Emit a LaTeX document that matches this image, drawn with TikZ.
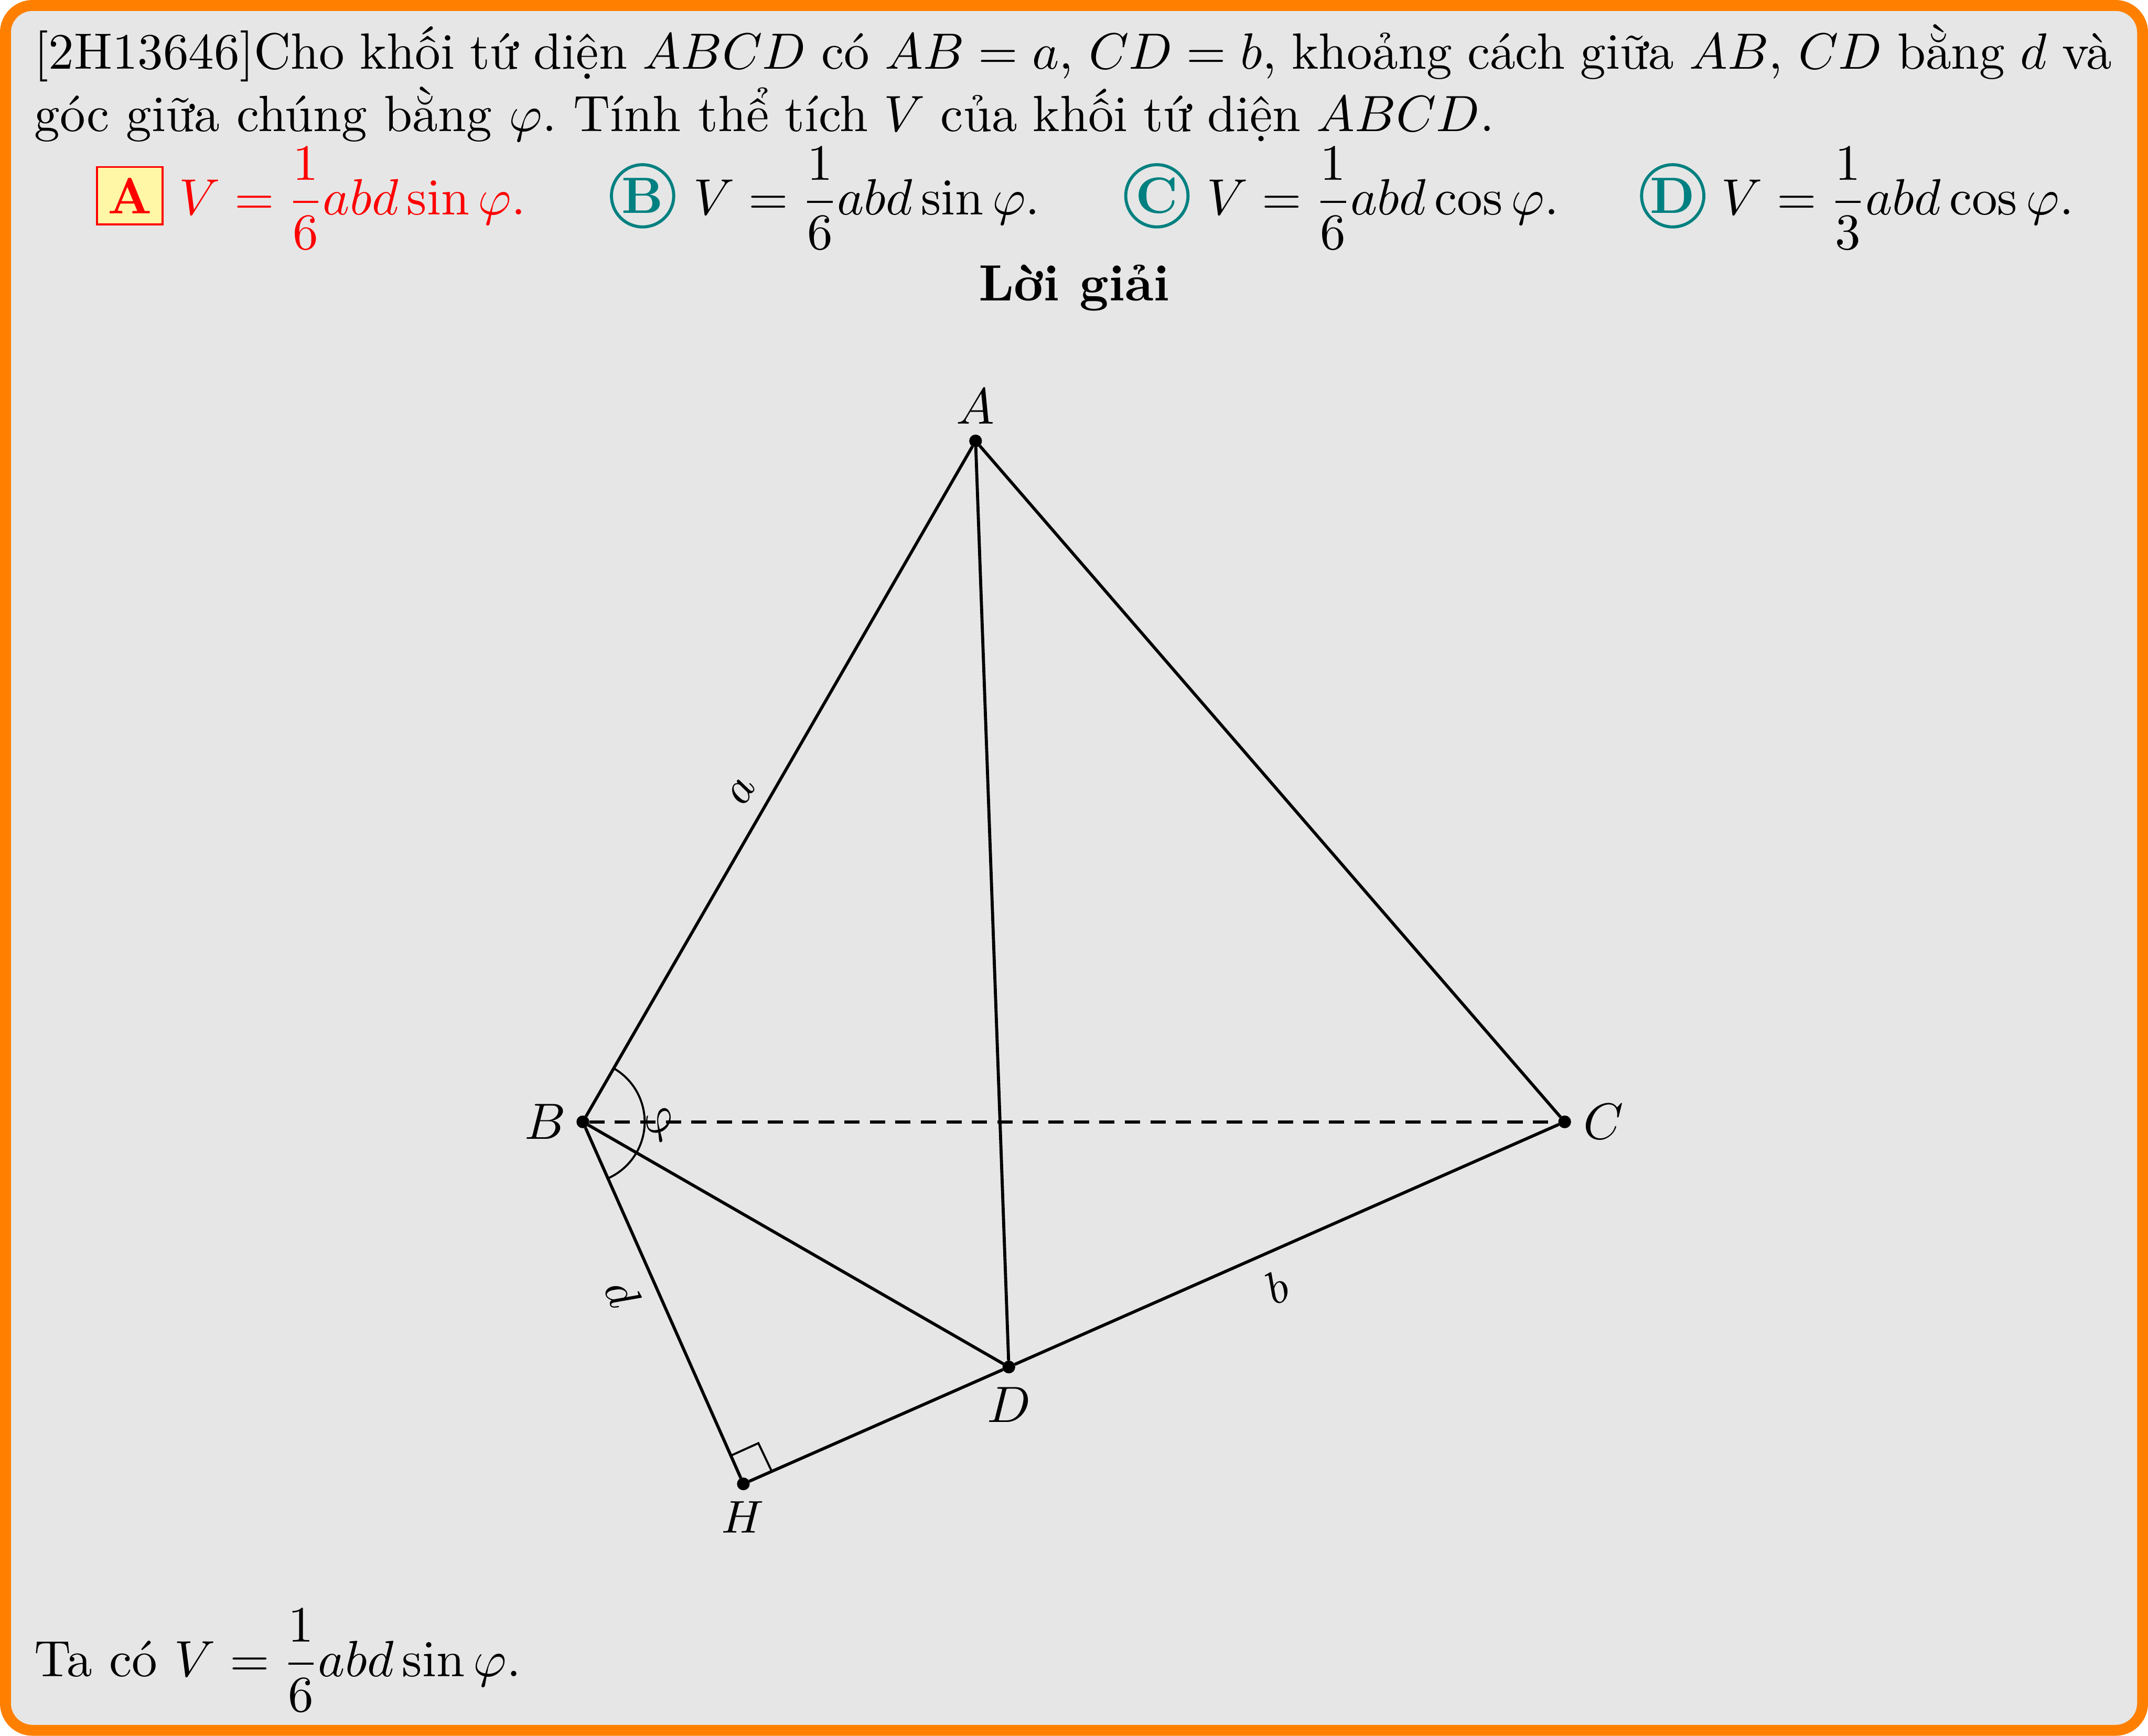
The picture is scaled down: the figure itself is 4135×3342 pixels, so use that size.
\documentclass[tikz,border=0pt]{standalone}
\usepackage{amsmath}
\usetikzlibrary{calc}
\definecolor{framebg}{RGB}{230,230,230}
\definecolor{frameor}{RGB}{255,128,0}
\definecolor{tealc}{RGB}{0,128,128}
\definecolor{keyfill}{RGB}{255,247,165}
\tikzset{
  x=0.10183pt,y=-0.10183pt,
  txt/.style={anchor=base west,inner sep=0pt,outer sep=0pt},
  ctxt/.style={anchor=base,inner sep=0pt,outer sep=0pt},
  pt/.style={circle,fill=black,inner sep=0pt,outer sep=0pt,minimum size=2.5pt},
  edge/.style={line width=0.6pt},
  thinl/.style={line width=0.4pt},
  choice/.style={circle,draw=tealc,line width=0.6pt,inner sep=0pt,minimum size=12.2pt,text=tealc,font=\bfseries},
  keybox/.style={rectangle,draw=red,fill=keyfill,line width=0.4pt,inner sep=0pt,minimum width=12.9pt,minimum height=11.3pt,text=red,font=\bfseries},
  lab/.style={inner sep=0pt,outer sep=0pt}
}
\frenchspacing
\nulldelimiterspace=0.9pt
\begin{document}
\begin{tikzpicture}
\useasboundingbox (0,0) rectangle (4135,3342);
\draw[line width=2.14pt,draw=frameor,fill=framebg,rounded corners=5.3pt] (10.5,10.5) rectangle (4124.5,3331.5);
\node[txt] (l1) at (66,133) {\hbox to 407.3pt{[2H13646]Cho khối tứ diện $ABCD$ có $AB=a$, $CD=b$, khoảng cách giữa $AB$, $CD$ bằng $d$ và}};
\node[txt] (l2) at (66,253) {góc giữa chúng bằng $\varphi$. Tính {\spaceskip=3.07pt thể tích $V$ của khối tứ diện $ABCD$.}};
\node[keybox] (ka) at (250,377) {A};
\node[txt,text=red] (ta) at (345,413) {$V=\dfrac{1}{6}abd\sin\varphi.$};
\node[choice] (kb) at (1237,377) {B};
\node[txt] (tb) at (1335,413) {$V=\dfrac{1}{6}abd\sin\varphi.$};
\node[choice] (kc) at (2227,377) {C};
\node[txt] (tc) at (2323,413) {$V=\dfrac{1}{6}abd\cos\varphi.$};
\node[choice] (kd) at (3220,377) {D};
\node[txt] (td) at (3314,413) {$V=\dfrac{1}{3}abd\cos\varphi.$};
\node[ctxt,font=\bfseries] (sol) at (2068,579) {Lời giải};
\node[pt] (A) at (1878,849) {};
\node[pt] (B) at (1122,2160) {};
\node[pt] (C) at (3012,2160) {};
\node[pt] (D) at (1942,2632) {};
\node[pt] (H) at (1431,2857) {};
\draw[edge] (A) -- (B);
\draw[edge] (A) -- (C);
\draw[edge] (A) -- (D);
\draw[edge] (B) -- (D);
\draw[edge] (D) -- (C);
\draw[edge] (B) -- (H);
\draw[edge] (H) -- (D);
\draw[edge,dash pattern=on 3pt off 2pt] (B) -- (C);
\draw[thinl] (B) ++(60:12.12pt) arc[start angle=60,end angle=-66,radius=12.12pt];
\draw[thinl] ($(H)!0.078!(B)$) -- ++(53,-24) -- ($(H)!0.107!(D)$);
\node[lab] (lA) at (1878,783) {$A$};
\node[lab] (lB) at (1050,2160) {$B$};
\node[lab] (lC) at (3087,2160) {$C$};
\node[lab] (lD) at (1942,2705) {$D$};
\node[lab,font=\small] (lH) at (1430,2921) {$H$};
\node[lab,font=\small,rotate=60] (la) at (1429,1524) {$a$};
\node[lab,font=\small,rotate=-66] (ld) at (1199,2490) {$d$};
\node[lab,font=\small,rotate=24] (lb) at (2458,2478) {$b$};
\node[lab,font=\small,rotate=24] (lp) at (1272,2167) {$\varphi$};
\node[txt] (sum) at (66,3228) {Ta có $V=\dfrac{1}{6}abd\sin\varphi.$};
\end{tikzpicture}
\end{document}
